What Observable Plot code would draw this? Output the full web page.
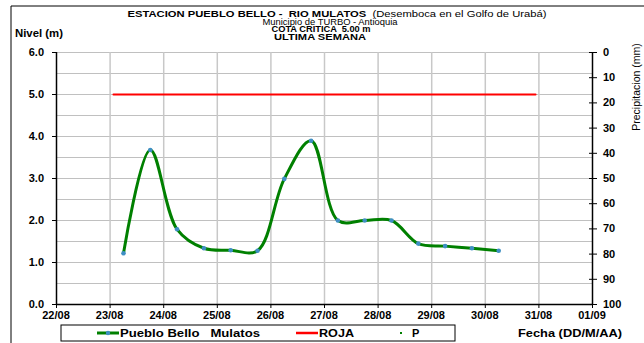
<!DOCTYPE html>
<html><head><meta charset="utf-8">
<script src="https://cdn.jsdelivr.net/npm/d3@7"></script>
<script src="https://cdn.jsdelivr.net/npm/@observablehq/plot@0.6"></script>
<style>
body{margin:0;background:#fff;}
svg{font-family:"Liberation Sans",Arial,sans-serif;overflow:visible;}
</style>
</head><body><div id="chart"></div>
<script>
// ---- data ----
const times = ["2023-08-23 06:00","2023-08-23 18:00","2023-08-24 06:00","2023-08-24 18:00","2023-08-25 06:00",
  "2023-08-25 18:00","2023-08-26 06:00","2023-08-26 18:00","2023-08-27 06:00","2023-08-27 18:00",
  "2023-08-28 06:00","2023-08-28 18:00","2023-08-29 06:00","2023-08-29 18:00","2023-08-30 06:00"];
const nivel = [1.22, 3.68, 1.79, 1.34, 1.29, 1.28, 2.99, 3.90, 2.00, 2.00, 2.00, 1.45, 1.39, 1.34, 1.28];
const rojaTimes = ["2023-08-23 01:30","2023-08-30 22:30"];
const rojaValue = 5.0;
const dayTicks = ["2023-08-22","2023-08-23","2023-08-24","2023-08-25","2023-08-26","2023-08-27",
  "2023-08-28","2023-08-29","2023-08-30","2023-08-31","2023-09-01"];
const levelTicks = [0,1,2,3,4,5,6];
const precipTicks = [0,10,20,30,40,50,60,70,80,90,100];
const titleBold = "ESTACION PUEBLO BELLO -  RIO MULATOS";
const titleNormal = "  (Desemboca en el Golfo de Urabá)";
const subtitles = ["Municipio de TURBO - Antioquia","COTA CRITICA  5.00 m","ULTIMA SEMANA"];
const legendItems = ["Pueblo Bello   Mulatos","ROJA","P"];

// ---- build ----
const pt = d3.utcParse("%Y-%m-%d %H:%M");
const pd = d3.utcParse("%Y-%m-%d");
const serie = times.map((t,i)=>({t:pt(t), v:nivel[i]}));
const roja = rojaTimes.map(t=>({t:pt(t), v:rojaValue}));
const days = dayTicks.map(pd);
const precipToLevel = p => 6 - p*0.06;
const rightTicks = precipTicks.map(p => ({y: precipToLevel(p), label: String(p)}));

const W=644, H=343;

const plot = Plot.plot({
  width:W, height:H,
  marginLeft:56, marginRight:52, marginTop:52, marginBottom:39,
  style:{fontFamily:"Liberation Sans, Arial, sans-serif", color:"#000", background:"#fff", overflow:"visible"},
  x:{type:"utc", domain:[days[0], days[days.length-1]]},
  y:{domain:[0,6]},
  marks:[
    Plot.gridY(d3.range(0.5,6.01,0.5), {stroke:"#c0c0c0", strokeOpacity:1, strokeWidth:1.2}),
    Plot.gridX(days.slice(1,-1), {stroke:"#c8c8c8", strokeOpacity:1, strokeWidth:1.5}),
    Plot.ruleX([days[0]], {stroke:"#000", strokeWidth:1.5}),
    Plot.ruleX([days[days.length-1]], {stroke:"#000", strokeWidth:1.5}),
    Plot.ruleY([0], {stroke:"#000", strokeWidth:1.5}),
    Plot.axisY(levelTicks, {anchor:"left", tickSize:4, tickFormat:()=>"", label:null}),
    Plot.axisX(days, {anchor:"bottom", tickSize:4, tickFormat:()=>"", label:null}),
    Plot.axisY(rightTicks.map(d=>d.y), {anchor:"right", tickSize:4, tickFormat:()=>"", label:null}),
    Plot.axisY(rightTicks.map(d=>d.y), {anchor:"right", tickSize:-4, tickFormat:()=>"", label:null}),
    Plot.line(roja, {x:"t", y:"v", stroke:"#ff0000", strokeWidth:2}),
    Plot.line(serie, {x:"t", y:"v", stroke:"#008000", strokeWidth:3, curve:"catmull-rom"}),
    Plot.dot(serie, {x:"t", y:"v", r:2.3, fill:"#3f8fc4", stroke:"none"})
  ]
});
document.getElementById("chart").appendChild(plot);

const svg = d3.select(plot);
const xs = plot.scale("x"), ys = plot.scale("y");
const x0 = xs.apply(days[0]), x1 = xs.apply(days[days.length-1]);

function addText(str, x, y, size, weight, anchor, len){
  const t = svg.append("text").attr("x",x).attr("y",y).attr("text-anchor",anchor)
    .attr("font-size",size).attr("font-weight",weight).attr("fill","#000")
    .attr("font-family","Liberation Sans, Arial, sans-serif").style("white-space","pre").text(str);
  if (len) t.attr("textLength",len).attr("lengthAdjust","spacingAndGlyphs");
  return t;
}
// tick labels through the plot's scales
levelTicks.forEach(v => addText(v.toFixed(1), x0-12, ys.apply(v)+4, 11, "bold", "end"));
rightTicks.forEach(d => addText(d.label, x1+11, ys.apply(d.y)+4, 11, "bold", "start"));
days.forEach(d => addText(d3.utcFormat("%d/%m")(d), xs.apply(d), ys.apply(0)+15, 11, "bold", "middle"));

// ---- annotations (real text) ----
const cx = 330;
svg.append("path").attr("d",`M11,${H} V6 H${W}`).attr("fill","none").attr("stroke","#000").attr("stroke-width",1);
const t1 = svg.append("text").attr("x",cx+7).attr("y",16.5).attr("text-anchor","middle")
  .attr("font-size",9.5).attr("fill","#000").style("white-space","pre")
  .attr("textLength",419).attr("lengthAdjust","spacingAndGlyphs");
t1.append("tspan").attr("font-weight","bold").text(titleBold);
t1.append("tspan").attr("font-weight","normal").text(titleNormal);
addText(subtitles[0], cx, 24.5, 8.5, "normal", "middle", 135);
addText(subtitles[1], 321, 32, 9, "bold", "middle", 99);
addText(subtitles[2], 320, 39.5, 9, "bold", "middle", 92);
addText("Nivel (m)", 15, 37, 10.5, "bold", "start", 48);
svg.append("text").attr("transform","translate(640,87) rotate(-90)").attr("text-anchor","middle")
  .attr("font-size",10.5).attr("fill","#000").text("Precipitacion (mm)");
addText("Fecha (DD/M/AA)", 518, 337, 11, "bold", "start", 104);
// legend
const lg = svg.append("g");
lg.append("rect").attr("x",61).attr("y",325).attr("width",394).attr("height",16).attr("fill","#fff").attr("stroke","#000");
lg.append("line").attr("x1",97).attr("x2",119).attr("y1",333).attr("y2",333).attr("stroke","#008000").attr("stroke-width",3);
lg.append("circle").attr("cx",108).attr("cy",333).attr("r",2.2).attr("fill","#3f8fc4");
addText(legendItems[0], 120, 337, 11, "bold", "start", 140);
lg.append("line").attr("x1",296).attr("x2",318).attr("y1",333).attr("y2",333).attr("stroke","#ff0000").attr("stroke-width",2.5);
addText(legendItems[1], 319, 337, 11, "bold", "start", 35);
lg.append("rect").attr("x",400).attr("y",332).attr("width",2).attr("height",2).attr("fill","#008000");
addText(legendItems[2], 412, 337, 11, "bold", "start");
</script>
</body></html>
